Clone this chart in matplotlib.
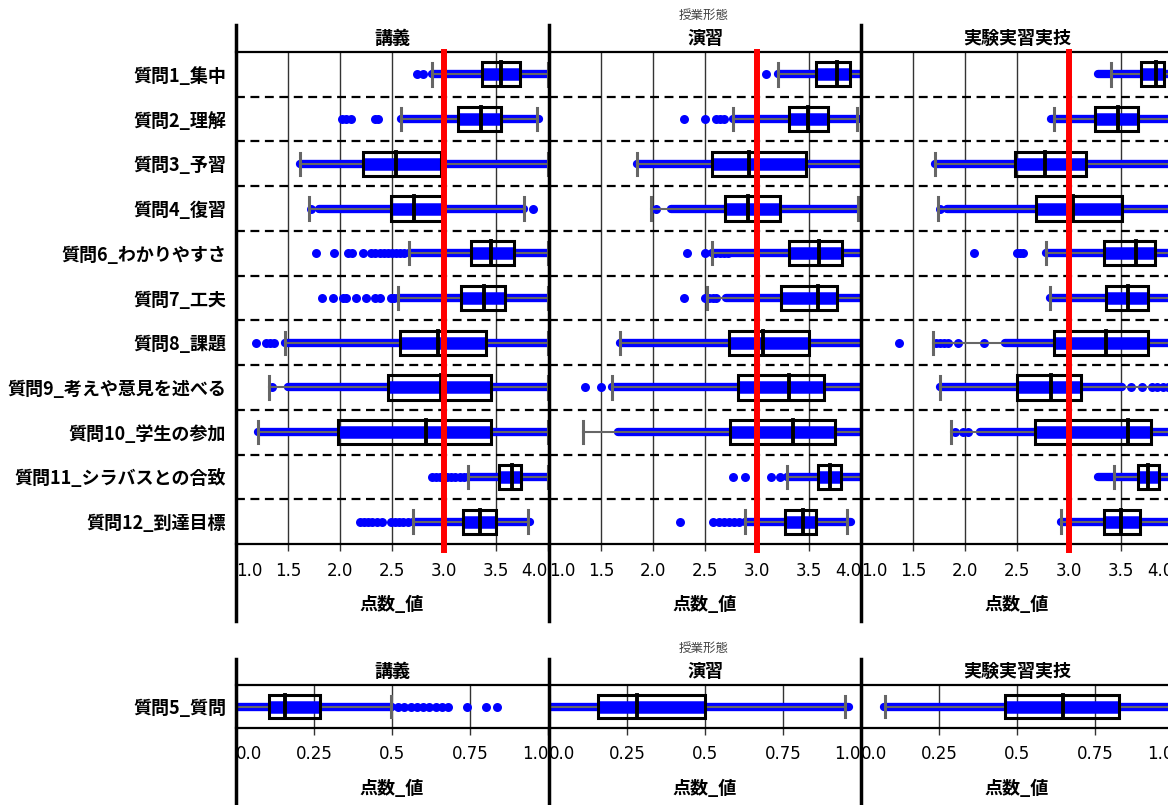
import matplotlib
matplotlib.use('Agg')
import matplotlib.pyplot as plt
from matplotlib.lines import Line2D
from matplotlib.patches import Rectangle

plt.rcParams['font.family'] = ['Noto Sans CJK JP', 'DejaVu Sans']

W, H = 1168, 805

forms = ['講義', '演習', '実験実習実技']
questions = ['質問1_集中', '質問2_理解', '質問3_予習', '質問4_復習', '質問6_わかりやすさ',
             '質問7_工夫', '質問8_課題', '質問9_考えや意見を述べる', '質問10_学生の参加',
             '質問11_シラバスとの合致', '質問12_到達目標']

# 講義
lec_lo = [2.88, 2.59, 1.62, 1.70, 2.66, 2.56, 1.47, 1.32, 1.21, 3.23, 2.70]
lec_q1 = [3.37, 3.13, 2.22, 2.49, 3.26, 3.16, 2.58, 2.46, 1.98, 3.53, 3.18]
lec_med = [3.55, 3.36, 2.54, 2.71, 3.45, 3.38, 2.94, 2.97, 2.83, 3.65, 3.35]
lec_q3 = [3.73, 3.55, 2.97, 2.98, 3.67, 3.59, 3.40, 3.45, 3.45, 3.74, 3.50]
lec_hi = [4.0, 3.89, 4.0, 3.77, 4.0, 4.0, 4.0, 4.0, 4.0, 4.0, 3.81]
lec_band_lo = [2.88, 2.59, 1.62, 1.80, 2.66, 2.56, 1.47, 1.50, 1.21, 3.23, 2.70]
lec_band_hi = [4.0, 3.91, 4.0, 3.77, 4.0, 4.0, 4.0, 4.0, 4.0, 4.0, 3.83]
lec_dots = [[2.74, 2.80],
            [2.02, 2.06, 2.11, 2.34, 2.37],
            [],
            [1.72, 3.86],
            [1.77, 1.94, 2.08, 2.12, 2.22, 2.30, 2.34, 2.38, 2.42, 2.46, 2.50, 2.54, 2.58, 2.62],
            [1.83, 1.93, 2.03, 2.06, 2.15, 2.25, 2.34, 2.38, 2.49, 2.52],
            [1.19, 1.29, 1.33, 1.37],
            [1.35],
            [],
            [2.88, 2.92, 2.96, 3.03, 3.07, 3.11, 3.15, 3.19],
            [2.19, 2.23, 2.27, 2.31, 2.36, 2.40, 2.49, 2.53, 2.57, 2.61, 2.65]]

# 演習
ex_lo = [3.20, 2.77, 1.85, 1.98, 2.57, 2.52, 1.68, 1.61, 1.33, 3.29, 2.88]
ex_q1 = [3.57, 3.31, 2.57, 2.69, 3.31, 3.23, 2.73, 2.82, 2.74, 3.59, 3.27]
ex_med = [3.77, 3.49, 2.92, 2.91, 3.60, 3.59, 3.06, 3.31, 3.35, 3.70, 3.44]
ex_q3 = [3.89, 3.68, 3.47, 3.22, 3.82, 3.77, 3.50, 3.64, 3.75, 3.81, 3.57]
ex_hi = [4.0, 3.96, 4.0, 3.97, 4.0, 4.0, 4.0, 4.0, 4.0, 4.0, 3.87]
ex_band_lo = [3.20, 2.77, 1.85, 2.17, 2.57, 2.70, 1.68, 1.61, 1.66, 3.29, 2.88]
ex_band_hi = [4.0, 3.98, 4.0, 4.0, 4.0, 4.0, 4.0, 4.0, 4.0, 4.0, 3.90]
ex_dots = [[3.09],
           [2.30, 2.50, 2.61, 2.64, 2.68],
           [],
           [2.03],
           [2.33, 2.50, 2.60, 2.64, 2.68, 2.72],
           [2.30, 2.50, 2.54, 2.58, 2.61],
           [],
           [1.35, 1.50],
           [],
           [2.77, 2.88, 3.13, 3.22],
           [2.26, 2.58, 2.63, 2.68, 2.73, 2.78, 2.83]]

# 実験実習実技
lab_lo = [3.40, 2.86, 1.71, 1.74, 2.78, 2.82, 1.69, 1.76, 1.87, 3.43, 2.92]
lab_q1 = [3.69, 3.25, 2.48, 2.68, 3.34, 3.36, 2.86, 2.50, 2.67, 3.66, 3.34]
lab_med = [3.84, 3.47, 2.77, 3.04, 3.64, 3.57, 3.36, 2.83, 3.57, 3.76, 3.50]
lab_q3 = [3.91, 3.66, 3.16, 3.51, 3.83, 3.76, 3.76, 3.12, 3.79, 3.87, 3.68]
lab_hi = [4.0, 4.0, 4.0, 4.0, 4.0, 4.0, 4.0, 4.0, 4.0, 4.0, 4.0]
lab_band_lo = [3.28, 2.83, 1.71, 1.83, 2.78, 2.82, 2.38, 1.76, 2.14, 3.28, 2.92]
lab_band_hi = [4.0, 4.0, 4.0, 4.0, 4.0, 4.0, 4.0, 3.51, 4.0, 4.0, 4.0]
lab_dots = [[],
            [],
            [],
            [1.76],
            [2.09, 2.50, 2.53, 2.56],
            [],
            [1.37, 1.72, 1.76, 1.80, 1.84, 1.93, 2.18],
            [3.60, 3.70, 3.80, 3.85, 3.90, 3.95],
            [1.90, 1.98, 2.03],
            [],
            []]

# 質問5_質問 (0-1 scale)
q5_label = ['質問5_質問']
q5_lo = [0.0, 0.0, 0.077]
q5_q1 = [0.106, 0.158, 0.46]
q5_med = [0.157, 0.281, 0.648]
q5_q3 = [0.269, 0.50, 0.828]
q5_hi = [0.497, 0.949, 1.0]
q5_band_lo = [0.0, 0.0, 0.073]
q5_band_hi = [0.50, 0.96, 1.0]
q5_dots = [[0.52, 0.54, 0.56, 0.58, 0.60, 0.62, 0.64, 0.66, 0.68, 0.74, 0.80, 0.835], [], []]

top_ticks = [1.0, 1.5, 2.0, 2.5, 3.0, 3.5, 4.0]
top_ticklabels = ['1.0', '1.5', '2.0', '2.5', '3.0', '3.5', '4.0']
bot_ticks = [0.0, 0.25, 0.5, 0.75, 1.0]
bot_ticklabels = ['0.0', '0.25', '0.5', '0.75', '1.0']

top_data = [
    (lec_lo, lec_q1, lec_med, lec_q3, lec_hi, lec_band_lo, lec_band_hi, lec_dots),
    (ex_lo, ex_q1, ex_med, ex_q3, ex_hi, ex_band_lo, ex_band_hi, ex_dots),
    (lab_lo, lab_q1, lab_med, lab_q3, lab_hi, lab_band_lo, lab_band_hi, lab_dots),
]

BLUE = '#0000ff'
GREY = '#666666'


def fx(px):
    return px / W


def fy(py):
    return 1 - py / H


def draw_row(ax, y, lo, q1, med, q3, hi, blo, bhi, dots):
    ax.plot([blo, bhi], [y, y], color=BLUE, lw=6, solid_capstyle='round', zorder=2)
    if dots:
        ax.scatter(dots, [y] * len(dots), s=42, color=BLUE, linewidths=0, zorder=2)
    ax.plot([lo, hi], [y, y], color=GREY, lw=1.5, zorder=3)
    ax.plot([q1, q3], [y, y], color=BLUE, lw=9, solid_capstyle='butt', zorder=4)
    for v in (lo, hi):
        ax.plot([v, v], [y - 0.25, y + 0.25], color=GREY, lw=2.2, zorder=5)
    ax.add_patch(Rectangle((q1, y - 0.27), q3 - q1, 0.54, fill=False,
                           ec='black', lw=2.2, zorder=6))
    ax.plot([med, med], [y - 0.27, y + 0.27], color='black', lw=2.8, zorder=6)


fig = plt.figure(figsize=(W / 100, H / 100), dpi=100)

col_left = [236, 549, 861]
col_w = 312


def make_panel(top, bottom, labels, data, xlim, ticks, ticklabels, red, tickpad, labelpad):
    n = len(labels)
    for c in range(3):
        ax = fig.add_axes([fx(col_left[c]), fy(bottom), fx(col_w), (bottom - top) / H])
        ax.set_xlim(*xlim)
        ax.set_ylim(n - 0.5, -0.5)
        lo, q1, med, q3, hi, blo, bhi, dots = data[c]
        for i in range(n):
            draw_row(ax, i, lo[i], q1[i], med[i], q3[i], hi[i], blo[i], bhi[i], dots[i])
        for i in range(n - 1):
            ax.axhline(i + 0.5, color='black', lw=1.6, ls=(0, (4, 2.5)), zorder=1)
        for t in ticks[1:-1]:
            ax.axvline(t, color='#333333', lw=1, zorder=0)
        if red is not None:
            ax.axvline(red, ymin=-0.012, ymax=1, color='#ff0000', lw=4.3, zorder=10, clip_on=False)
        for s in ('left', 'right'):
            ax.spines[s].set_visible(False)
        for s in ('top', 'bottom'):
            ax.spines[s].set_linewidth(1.6)
        ax.set_xticks(ticks)
        lbls = ax.set_xticklabels(ticklabels, family='DejaVu Sans', fontsize=12)
        lbls[0].set_ha('left')
        lbls[-1].set_ha('right')
        ax.tick_params(axis='x', length=5, width=1, color='#333333', pad=tickpad)
        ax.set_xlabel('点数_値', fontsize=13, fontweight='bold', labelpad=labelpad)
        ax.set_yticks(range(n))
        if c == 0:
            ax.set_yticklabels(labels, fontsize=13, fontweight='bold')
        else:
            ax.set_yticklabels([])
        ax.tick_params(axis='y', length=0, pad=7)
        fig.text(fx(col_left[c] + col_w / 2), fy(top - 14), forms[c],
                 ha='center', va='center', fontsize=13, fontweight='bold')


make_panel(52, 544, questions, top_data, (1.0, 4.0), top_ticks, top_ticklabels,
           3.0, 8, 11)

bot_data = [([q5_lo[c]], [q5_q1[c]], [q5_med[c]], [q5_q3[c]], [q5_hi[c]],
             [q5_band_lo[c]], [q5_band_hi[c]], [q5_dots[c]]) for c in range(3)]
make_panel(685, 728, q5_label, bot_data, (0.0, 1.0), bot_ticks, bot_ticklabels,
           None, 7, 12)

# column separators
for x in (236, 548.5, 861):
    fig.add_artist(Line2D([fx(x), fx(x)], [fy(25), fy(621)], transform=fig.transFigure,
                          color='black', lw=2.5))
    fig.add_artist(Line2D([fx(x), fx(x)], [fy(659), fy(805)], transform=fig.transFigure,
                          color='black', lw=2.5))

fig.text(fx(704), fy(15), '授業形態', ha='center', va='center', fontsize=9, color='#444444')
fig.text(fx(704), fy(648), '授業形態', ha='center', va='center', fontsize=9, color='#444444')

fig.savefig('out.png', dpi=100)
